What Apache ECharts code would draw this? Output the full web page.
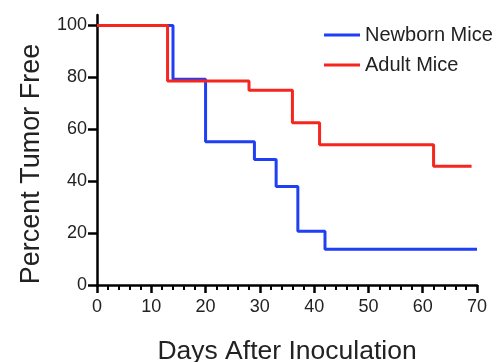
<!DOCTYPE html>
<html>
<head>
<meta charset="utf-8">
<script src="https://cdn.jsdelivr.net/npm/echarts@6/dist/echarts.min.js"></script>
<style>
  html, body { margin: 0; padding: 0; background: #fff; }
  #chart { width: 499px; height: 362px; }
</style>
</head>
<body>
<div id="chart"></div>
<script>
// Kaplan-Meier style curves, [day, percent]
const newbornDays = [0, 14, 20, 29, 33, 37, 42, 70];
const newbornPct = [100, 79.3, 55.2, 48.3, 37.9, 20.7, 13.8, 13.8];
const adultDays = [0, 13, 28, 36, 41, 62, 69];
const adultPct = [100, 78.6, 75, 62.5, 54, 45.7, 45.7];

const pairs = (xs, ys) => xs.map((x, i) => [x, ys[i]]);

const chart = echarts.init(document.getElementById('chart'));
const font = 'Liberation Sans, Arial, sans-serif';

const option = {
    animation: false,
    grid: { left: 97, right: 22, top: 15, bottom: 77, outerBoundsMode: 'none' },
    legend: {
        orient: 'vertical',
        left: 319,
        top: 20,
        icon: 'rect',
        itemWidth: 36,
        itemHeight: 3,
        itemGap: 10,
        textStyle: { fontFamily: font, fontSize: 20, color: '#222' },
        data: ['Newborn Mice', 'Adult Mice']
    },
    xAxis: {
        type: 'value',
        min: 0,
        max: 70,
        interval: 10,
        name: 'Days After Inoculation',
        nameLocation: 'middle',
        nameGap: 53,
        nameTextStyle: { fontFamily: font, fontSize: 26.5, color: '#222' },
        axisLine: { lineStyle: { color: '#000', width: 2.5 } },
        axisTick: { length: 8, lineStyle: { color: '#000', width: 2.5 } },
        minorTick: { show: true, splitNumber: 5, length: 5, lineStyle: { color: '#000', width: 2 } },
        axisLabel: { fontFamily: font, fontSize: 18, color: '#222', margin: 13 },
        splitLine: { show: false }
    },
    yAxis: {
        type: 'value',
        min: 0,
        max: 104,
        interval: 20,
        name: 'Percent Tumor Free',
        nameLocation: 'middle',
        nameGap: 52,
        nameTextStyle: { fontFamily: font, fontSize: 27, color: '#222', padding: [0, 28, 0, 0] },
        axisLine: { show: true, lineStyle: { color: '#000', width: 2.5 } },
        axisTick: { show: true, length: 9, lineStyle: { color: '#000', width: 2.5 } },
        axisLabel: {
            fontFamily: font, fontSize: 18, color: '#222', margin: 10,
            showMaxLabel: false,
            formatter: v => (v % 20 === 0 ? String(v) : '')
        },
        splitLine: { show: false }
    },
    series: [
        {
            name: 'Newborn Mice',
            type: 'line',
            step: 'end',
            showSymbol: false,
            data: pairs(newbornDays, newbornPct),
            itemStyle: { color: '#1f3ff5' },
            lineStyle: { color: '#1f3ff5', width: 3 }
        },
        {
            name: 'Adult Mice',
            type: 'line',
            step: 'end',
            showSymbol: false,
            data: pairs(adultDays, adultPct),
            itemStyle: { color: '#f5261e' },
            lineStyle: { color: '#f5261e', width: 3 }
        }
    ]
};

chart.setOption(option);
</script>
</body>
</html>
